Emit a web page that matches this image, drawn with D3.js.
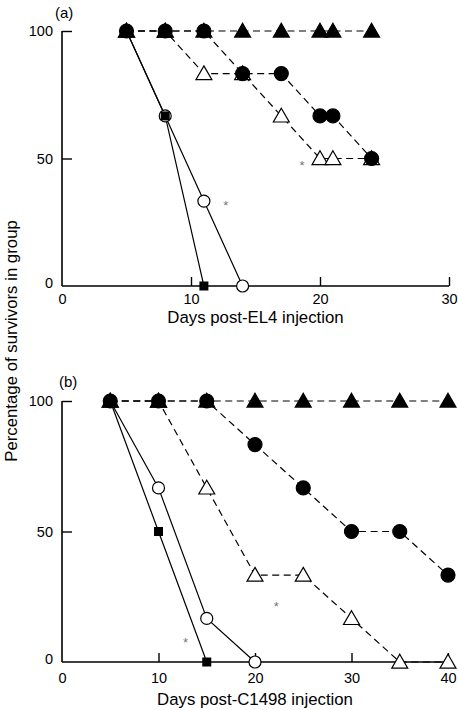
<!DOCTYPE html>
<html><head><meta charset="utf-8">
<script src="https://cdn.jsdelivr.net/npm/d3@7"></script>
<style>
html,body{margin:0;padding:0;background:#fff;}
svg{display:block;font-family:"Liberation Sans",Arial,Helvetica,sans-serif;}
</style></head>
<body>
<svg id="chart" width="458" height="710"></svg>
<script>
// ---------- Panel (a): EL4 ----------
const aFilledTriX = [5, 8, 11, 14, 17, 20, 21, 24];
const aFilledTriY = [100, 100, 100, 100, 100, 100, 100, 100];
const aOpenTriX   = [5, 8, 11, 14, 17, 20, 21, 24];
const aOpenTriY   = [100, 100, 83.3, 83.3, 66.7, 50, 50, 50];
const aFilledCircX = [5, 8, 11, 14, 17, 20, 21, 24];
const aFilledCircY = [100, 100, 100, 83.3, 83.3, 66.7, 66.7, 50];
const aOpenCircX  = [5, 8, 11, 14];
const aOpenCircY  = [100, 66.7, 33.3, 0];
const aSquareX    = [5, 8, 11];
const aSquareY    = [100, 66.7, 0];
const aAsteriskX  = [12.7, 18.6];
const aAsteriskY  = [32, 48];
const aXTicks = [0, 10, 20, 30];
const aYTicks = [0, 50, 100];

// ---------- Panel (b): C1498 ----------
const bFilledTriX = [5, 10, 15, 20, 25, 30, 35, 40];
const bFilledTriY = [100, 100, 100, 100, 100, 100, 100, 100];
const bOpenTriX   = [5, 10, 15, 20, 25, 30, 35, 40];
const bOpenTriY   = [100, 100, 66.7, 33.3, 33.3, 16.7, 0, 0];
const bFilledCircX = [5, 10, 15, 20, 25, 30, 35, 40];
const bFilledCircY = [100, 100, 100, 83.3, 66.7, 50, 50, 33.3];
const bOpenCircX  = [5, 10, 15, 20];
const bOpenCircY  = [100, 66.7, 16.7, 0];
const bSquareX    = [5, 10, 15];
const bSquareY    = [100, 50, 0];
const bAsteriskX  = [12.8, 22.2];
const bAsteriskY  = [8, 22];
const bXTicks = [0, 10, 20, 30, 40];
const bYTicks = [0, 50, 100];

const zip = (xs, ys) => xs.map((x, i) => ({x, y: ys[i]}));

const svg = d3.select("#chart");

function panel(cfg) {
  const x = d3.scaleLinear().domain(cfg.xDomain).range(cfg.xRange);
  const y = d3.scaleLinear().domain([0, 100]).range(cfg.yRange);
  const g = svg.append("g");

  // axes
  const xAxis = d3.axisBottom(x).tickValues(cfg.xTicks).tickSize(-9).tickPadding(cfg.xPad).tickFormat(d3.format("d"));
  const yAxis = d3.axisLeft(y).tickValues(cfg.yTicks).tickSize(-10).tickPadding(9).tickFormat(d3.format("d"));
  const gx = g.append("g").attr("transform", `translate(0,${cfg.yRange[0]})`).call(xAxis);
  const gy = g.append("g").attr("transform", `translate(${cfg.xRange[0]},0)`).call(yAxis);
  [gx, gy].forEach(a => {
    a.select(".domain").attr("stroke", "#000").attr("stroke-width", 1.6);
    a.selectAll(".tick line").attr("stroke", "#000").attr("stroke-width", 1.4);
    a.selectAll(".tick text").attr("fill", "#000").style("font-size", "14.5px")
      .style("font-family", "'Liberation Sans', Arial, sans-serif");
  });
  gx.select(".domain").attr("d", `M${cfg.xRange[0]},0H${cfg.xRange[1]}`);
  gy.select(".domain").attr("d", `M0,${cfg.yRange[0]}V${cfg.yRange[1]}`);
  gx.selectAll(".tick").filter(d => d === 0).select("line").remove();
  gy.selectAll(".tick").filter(d => d === 0).select("line").remove();
  gy.selectAll(".tick").filter(d => d === 0).select("text").attr("dy", "0.1em");

  // axis title
  g.append("text").attr("x", (cfg.xRange[0] + cfg.xRange[1]) / 2).attr("y", cfg.yRange[0] + cfg.titleOff)
    .attr("text-anchor", "middle").style("font-size", "16.8px").text(cfg.xTitle);

  // panel label
  g.append("text").attr("x", cfg.labelX).attr("y", cfg.labelY).style("font-size", "15px").text(cfg.label);

  const line = d3.line().x(d => x(d.x)).y(d => y(d.y));
  const lineStyle = (sel, dashed) => sel.attr("fill", "none").attr("stroke", "#000").attr("stroke-width", 1.2)
    .attr("stroke-dasharray", dashed ? "7,4.5" : null);

  const series = cfg.series;
  series.forEach(s => {
    g.append("path").datum(s.data).attr("d", line).call(lineStyle, s.dashed);
  });

  const tri = d3.symbol().type(d3.symbolTriangle).size(110);
  series.forEach(s => {
    const m = g.append("g").selectAll("g").data(s.data).join("g")
      .attr("transform", d => `translate(${x(d.x)},${y(d.y)})`);
    if (s.shape === "triangle") {
      m.append("path").attr("d", tri).attr("transform", "translate(0,1.5)")
        .attr("fill", s.filled ? "#000" : "#fff").attr("stroke", "#000").attr("stroke-width", 1.2);
    } else if (s.shape === "circle") {
      m.append("circle").attr("r", s.filled ? 7 : 6)
        .attr("fill", s.filled ? "#000" : "#fff").attr("stroke", "#000").attr("stroke-width", 1.2);
    } else {
      m.append("rect").attr("x", -4.5).attr("y", -4.5).attr("width", 9).attr("height", 9).attr("fill", "#000");
    }
  });

  // asterisks
  g.append("g").selectAll("text").data(cfg.asterisks).join("text")
    .attr("x", d => x(d.x)).attr("y", d => y(d.y) + 6)
    .attr("text-anchor", "middle").attr("fill", "#777").style("font-size", "13px").text("*");
}

panel({
  xDomain: [0, 30], xRange: [62, 449], yRange: [286, 31], xPad: 8, titleOff: 37,
  xTicks: aXTicks, yTicks: aYTicks, xTitle: "Days post-EL4 injection",
  label: "(a)", labelX: 55, labelY: 18,
  asterisks: zip(aAsteriskX, aAsteriskY),
  series: [
    {shape: "triangle", filled: false, dashed: true, data: zip(aOpenTriX, aOpenTriY)},
    {shape: "triangle", filled: true, dashed: true, data: zip(aFilledTriX, aFilledTriY)},
    {shape: "circle", filled: false, dashed: false, data: zip(aOpenCircX, aOpenCircY)},
    {shape: "square", filled: true, dashed: false, data: zip(aSquareX, aSquareY)},
    {shape: "circle", filled: true, dashed: true, data: zip(aFilledCircX, aFilledCircY)}
  ]
});

panel({
  xDomain: [0, 40], xRange: [62, 448], yRange: [662, 401], xPad: 11, titleOff: 43,
  xTicks: bXTicks, yTicks: bYTicks, xTitle: "Days post-C1498 injection",
  label: "(b)", labelX: 59, labelY: 387,
  asterisks: zip(bAsteriskX, bAsteriskY),
  series: [
    {shape: "triangle", filled: false, dashed: true, data: zip(bOpenTriX, bOpenTriY)},
    {shape: "triangle", filled: true, dashed: true, data: zip(bFilledTriX, bFilledTriY)},
    {shape: "circle", filled: false, dashed: false, data: zip(bOpenCircX, bOpenCircY)},
    {shape: "square", filled: true, dashed: false, data: zip(bSquareX, bSquareY)},
    {shape: "circle", filled: true, dashed: true, data: zip(bFilledCircX, bFilledCircY)}
  ]
});

// shared y-axis title
svg.append("text").attr("transform", "translate(17,341) rotate(-90)")
  .attr("text-anchor", "middle").style("font-size", "16.8px").text("Percentage of survivors in group");
</script>
</body></html>
